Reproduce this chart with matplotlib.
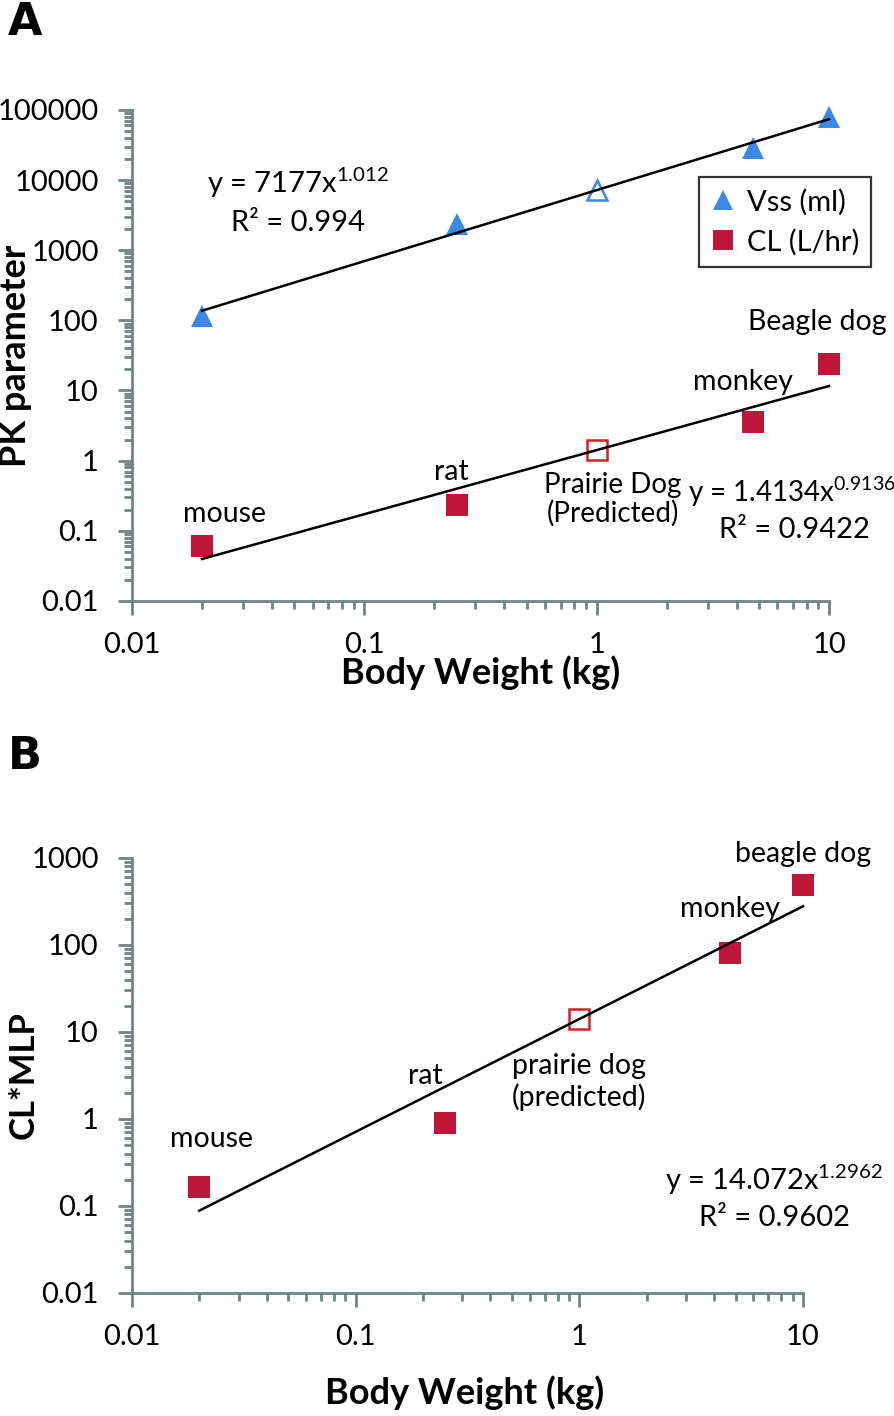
import numpy as np
import matplotlib
matplotlib.use('Agg')
import matplotlib.pyplot as plt
from matplotlib.lines import Line2D
from matplotlib.ticker import FuncFormatter, LogLocator

plt.rcParams['font.family'] = ['Lato', 'DejaVu Sans']
plt.rcParams['mathtext.default'] = 'regular'

# --- data ---
species = ['mouse', 'rat', 'prairie dog', 'monkey', 'beagle dog']
body_weight = [0.02, 0.25, 1.0, 4.7, 10.0]          # kg
predicted = [False, False, True, False, False]
vss_ml = [115, 2400, 7177, 29000, 80000]             # Vss (ml)
cl_lhr = [0.061, 0.235, 1.41, 3.5, 23.5]             # CL (L/hr)
cl_mlp = [0.165, 0.9, 14.07, 81, 490]                # CL*MLP

# power-law fits shown on the chart
vss_fit = (7177, 1.012, 0.994)
cl_fit = (1.4134, 0.9136, 0.9422)
clmlp_fit = (14.072, 1.2962, 0.9602)

labels_a = ['mouse', 'rat', 'Prairie Dog\n(Predicted)', 'monkey', 'Beagle dog']
labels_b = ['mouse', 'rat', 'prairie dog\n(predicted)', 'monkey', 'beagle dog']

blue = '#3b88e6'
red = '#bf1538'
red_open = '#d81f24'
axis_col = '#6f8585'

bw = np.array(body_weight)
pred = np.array(predicted)


def style_axis(ax, ylo, yhi):
    ax.set_xscale('log')
    ax.set_yscale('log')
    ax.set_xlim(0.01, 10)
    ax.set_ylim(ylo, yhi)
    for s in ['top', 'right']:
        ax.spines[s].set_visible(False)
    for s in ['left', 'bottom']:
        ax.spines[s].set_color(axis_col)
        ax.spines[s].set_linewidth(2)
    fmt = FuncFormatter(lambda v, p: '{:g}'.format(v))
    ax.xaxis.set_major_formatter(fmt)
    ax.yaxis.set_major_formatter(fmt)
    for a in (ax.xaxis, ax.yaxis):
        a.set_minor_locator(LogLocator(base=10, subs=np.arange(2, 10)))
    ax.tick_params(which='major', length=10, width=2, color=axis_col, labelsize=21)
    ax.tick_params(which='minor', length=6, width=2, color=axis_col)
    ax.tick_params(axis='x', which='major', pad=12)
    ax.tick_params(axis='y', which='major', pad=14)
    ax.set_facecolor('white')


def plot_series(ax, y, marker, color, open_color):
    y = np.array(y)
    ax.plot(bw[~pred], y[~pred], linestyle='none', marker=marker, markersize=16,
            color=color, markeredgewidth=0, zorder=3, clip_on=False)
    ax.plot(bw[pred], y[pred], linestyle='none', marker=marker, markersize=14.5,
            markerfacecolor='white', markeredgecolor=open_color, markeredgewidth=1.8,
            zorder=3, clip_on=False)


def plot_fit(ax, fit):
    xs = np.array([bw.min(), bw.max()])
    ax.plot(xs, fit[0] * xs ** fit[1], color='black', linewidth=1.8, zorder=4, clip_on=False)


fig = plt.figure(figsize=(8.95, 14.16), dpi=100)

# ---------------- Panel A ----------------
axA = fig.add_axes([0.1475, 0.5756, 0.7788, 0.3468])
style_axis(axA, 0.01, 100000)
plot_fit(axA, vss_fit)
plot_fit(axA, cl_fit)
plot_series(axA, vss_ml, '^', blue, blue)
plot_series(axA, cl_lhr, 's', red, red_open)

offsets_a = [(23, 32), (-5, 33), (16, -49), (-10, 40), (-12, 42)]
for i, lab in enumerate(labels_a):
    axA.annotate(lab, (bw[i], cl_lhr[i]), xytext=offsets_a[i], textcoords='offset pixels',
                 ha='center', va='center', fontsize=20 if predicted[i] else 20.5,
                 linespacing=1.1)

axA.text(0.238, 0.851, 'y = {}x$^{{{}}}$'.format(vss_fit[0], vss_fit[1]),
         transform=axA.transAxes, ha='center', va='center', fontsize=21)
axA.text(0.238, 0.770, 'R² = {}'.format(vss_fit[2]),
         transform=axA.transAxes, ha='center', va='center', fontsize=21)
axA.text(0.946, 0.222, 'y = {}x$^{{{}}}$'.format(cl_fit[0], cl_fit[1]),
         transform=axA.transAxes, ha='center', va='center', fontsize=20)
axA.text(0.950, 0.1446, 'R² = {}'.format(cl_fit[2]),
         transform=axA.transAxes, ha='center', va='center', fontsize=21)

handles = [Line2D([], [], linestyle='none', marker='^', markersize=15, color=blue, markeredgewidth=0),
           Line2D([], [], linestyle='none', marker='s', markersize=15, color=red, markeredgewidth=0)]
leg = axA.legend(handles, ['Vss (ml)', 'CL (L/hr)'], loc='upper left',
                 bbox_to_anchor=(0.813, 0.8635), borderaxespad=0, fontsize=21,
                 frameon=True, fancybox=False, handlelength=0.9, handletextpad=0.35,
                 labelspacing=0.45, borderpad=0.4)
leg.get_frame().set_edgecolor('black')
leg.get_frame().set_linewidth(1.6)

axA.set_xlabel('Body Weight (kg)', fontsize=26, fontweight='bold')
axA.xaxis.set_label_coords(0.5, -0.11)
axA.set_ylabel('PK parameter', fontsize=26, fontweight='bold')
axA.yaxis.set_label_coords(-0.143, 0.5)

# ---------------- Panel B ----------------
axB = fig.add_axes([0.1475, 0.0869, 0.7497, 0.3072])
style_axis(axB, 0.01, 1000)
plot_fit(axB, clmlp_fit)
plot_series(axB, cl_mlp, 's', red, red_open)

offsets_b = [(12, 48), (-19, 47), (0, -63), (0, 44), (0, 31)]
for i, lab in enumerate(labels_b):
    axB.annotate(lab, (bw[i], cl_mlp[i]), xytext=offsets_b[i], textcoords='offset pixels',
                 ha='center', va='center', fontsize=20.5, linespacing=1.2)

axB.text(0.957, 0.26, 'y = {}x$^{{{}}}$'.format(clmlp_fit[0], clmlp_fit[1]),
         transform=axB.transAxes, ha='center', va='center', fontsize=21)
axB.text(0.957, 0.172, 'R² = {}'.format(clmlp_fit[2]),
         transform=axB.transAxes, ha='center', va='center', fontsize=21)

axB.set_xlabel('Body Weight (kg)', fontsize=26, fontweight='bold')
axB.xaxis.set_label_coords(0.496, -0.19)
axB.set_ylabel('CL*MLP', fontsize=25, fontweight='bold')
axB.yaxis.set_label_coords(-0.137, 0.5)

# panel letters
fig.text(0.009, 0.999, 'A', fontsize=32, fontweight='bold', family='DejaVu Sans', va='top')
fig.text(0.009, 0.481, 'B', fontsize=32, fontweight='bold', family='DejaVu Sans', va='top')

fig.savefig('out.png', dpi=100)
